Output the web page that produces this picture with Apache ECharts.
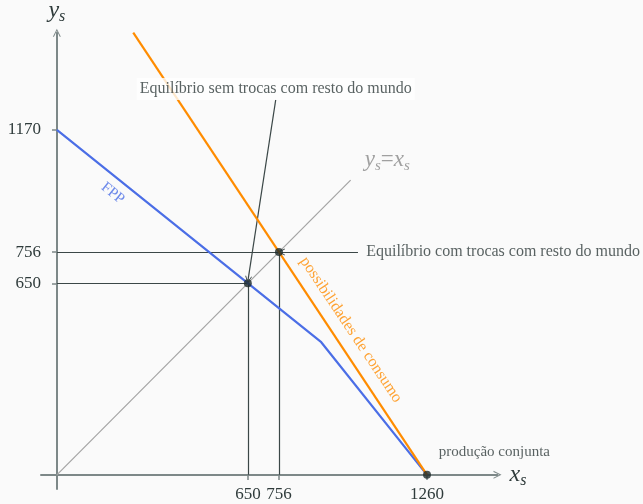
<!DOCTYPE html>
<html>
<head>
<meta charset="utf-8">
<script src="https://cdn.jsdelivr.net/npm/echarts@6/dist/echarts.min.js"></script>
<style>
  html, body { margin: 0; padding: 0; background: #fafafa; }
  #main { width: 643px; height: 504px; }
</style>
</head>
<body>
<div id="main"></div>
<script>
// dados do gráfico
const fppX = [0, 900, 1260];
const fppY = [1170, 450, 0];
const consX = [260, 1260];
const consY = [1500, 0];
const diagX = [0, 1000];
const diagY = [0, 1000];
const eqX = [650, 756, 1260];
const eqY = [650, 756, 0];
const xTicks = [650, 756, 1260];
const yTicks = [650, 756, 1170];

const serif = '"Liberation Serif", "DejaVu Serif", serif';
const dark = '#2f3b3b';
const axisGray = '#7d8888';
const chevron = 'path://M5,0 L10,10 L8.6,10 L5,2.6 L1.4,10 L0,10 Z';

const zip = (xs, ys) => xs.map((x, i) => [x, ys[i]]);

var myChart = echarts.init(document.getElementById('main'));

const axisName = {
  rich: {
    a: { fontFamily: serif, fontStyle: 'italic', fontSize: 24, color: dark },
    b: { fontFamily: serif, fontStyle: 'italic', fontSize: 16, color: dark, padding: [12, 0, 0, 0] }
  }
};

const option = {
  animation: false,
  backgroundColor: '#fafafa',
  grid: [
    // grade principal (eixos passam um pouco da origem)
    { left: 41, right: 145.5, top: 32.7, bottom: 15, containLabel: false, outerBoundsMode: 'none' },
    // grade só para marcas e rótulos, começando na origem
    { left: 57, right: 145.5, top: 32.7, bottom: 29, containLabel: false, outerBoundsMode: 'none' }
  ],
  xAxis: [
    {
      type: 'value', gridIndex: 0,
      min: -54, max: 1500,
      splitLine: { show: false },
      axisLine: {
        onZero: true,
        lineStyle: { color: axisGray, width: 2 },
        symbol: ['none', chevron],
        symbolSize: [10, 8]
      },
      axisTick: { show: false },
      axisLabel: { show: false },
      name: '{a|x}{b|s}',
      nameLocation: 'end',
      nameGap: 12,
      nameTextStyle: axisName
    },
    {
      type: 'value', gridIndex: 1,
      min: 0, max: 1500,
      splitLine: { show: false },
      axisLine: { show: false },
      axisTick: { show: true, customValues: xTicks, length: 5, lineStyle: { color: axisGray, width: 1.5 } },
      axisLabel: { customValues: xTicks, formatter: v => String(v), color: dark, fontFamily: serif, fontSize: 17, margin: 11 }
    }
  ],
  yAxis: [
    {
      type: 'value', gridIndex: 0,
      min: -48, max: 1500,
      splitLine: { show: false },
      axisLine: {
        onZero: true,
        lineStyle: { color: axisGray, width: 2 },
        symbol: ['none', chevron],
        symbolSize: [10, 8]
      },
      axisTick: { show: false },
      axisLabel: { show: false },
      name: '{a|y}{b|s}',
      nameLocation: 'end',
      nameGap: 8,
      nameTextStyle: axisName
    },
    {
      type: 'value', gridIndex: 1,
      min: 0, max: 1500,
      splitLine: { show: false },
      axisLine: { show: false },
      axisTick: { show: true, customValues: yTicks, length: 5, lineStyle: { color: axisGray, width: 1.5 } },
      axisLabel: { customValues: yTicks, formatter: v => String(v), color: dark, fontFamily: serif, fontSize: 17, margin: 16 }
    }
  ],
  series: [
    {
      // linha y = x
      type: 'line', data: zip(diagX, diagY), symbol: 'none',
      lineStyle: { color: '#a3a3a3', width: 1.2 }, z: 2
    },
    {
      // linhas guia
      type: 'lines', coordinateSystem: 'cartesian2d', symbol: 'none',
      lineStyle: { color: '#3b4747', width: 1.2, opacity: 1 },
      data: [
        { coords: [[0, 650], [650, 650]] },
        { coords: [[650, 650], [650, 0]] },
        { coords: [[0, 756], [756, 756]] },
        { coords: [[756, 756], [756, 0]] }
      ],
      z: 3
    },
    {
      // setas das anotações
      type: 'lines', coordinateSystem: 'cartesian2d',
      symbol: ['none', chevron], symbolSize: [8, 7],
      lineStyle: { color: '#3b4747', width: 1.2, opacity: 1 },
      data: [
        { coords: [[1025, 756], [764, 756]] },
        { coords: [[745, 1272], [651, 662]] }
      ],
      z: 3
    },
    {
      // FPP
      type: 'line', data: zip(fppX, fppY), symbol: 'none',
      lineStyle: { color: '#4b6ee6', width: 2.2 }, z: 4
    },
    {
      // possibilidades de consumo
      type: 'line', data: zip(consX, consY), symbol: 'none',
      lineStyle: { color: '#ff8c00', width: 2.2 }, z: 5
    },
    {
      // pontos de equilíbrio
      type: 'scatter', data: zip(eqX, eqY), symbol: 'circle', symbolSize: 8,
      itemStyle: { color: '#1e2a2a' }, z: 6
    },
    {
      // textos
      type: 'scatter', symbolSize: 0, z: 7, silent: true,
      label: { show: true, position: 'inside', fontFamily: serif, fontSize: 16, color: dark },
      data: [
        { value: [745, 1309], label: { formatter: 'Equilíbrio sem trocas com resto do mundo', backgroundColor: '#ffffff', padding: [3, 3] } },
        { value: [1053, 756], label: { formatter: 'Equilíbrio com trocas com resto do mundo', position: 'right', distance: 0 } },
        { value: [1300, 78], label: { formatter: 'produção conjunta', fontSize: 15, position: 'right', distance: 0 } },
        { value: [190, 955], label: { formatter: 'FPP', color: '#4b6ee6', fontSize: 15, rotate: -38.7 } },
        { value: [1001, 492], label: { formatter: 'possibilidades de consumo', color: '#ff8c00', rotate: -56.3 } },
        {
          value: [1125, 1068],
          label: {
            formatter: '{a|y}{b|s}{c|=}{a|x}{b|s}',
            rich: {
              a: { fontFamily: serif, fontStyle: 'italic', fontSize: 23, color: '#8a8a8a' },
              b: { fontFamily: serif, fontStyle: 'italic', fontSize: 15, color: '#8a8a8a', padding: [12, 0, 0, 0] },
              c: { fontFamily: serif, fontSize: 23, color: '#8a8a8a' }
            }
          }
        }
      ]
    }
  ]
};

myChart.setOption(option);
</script>
</body>
</html>
